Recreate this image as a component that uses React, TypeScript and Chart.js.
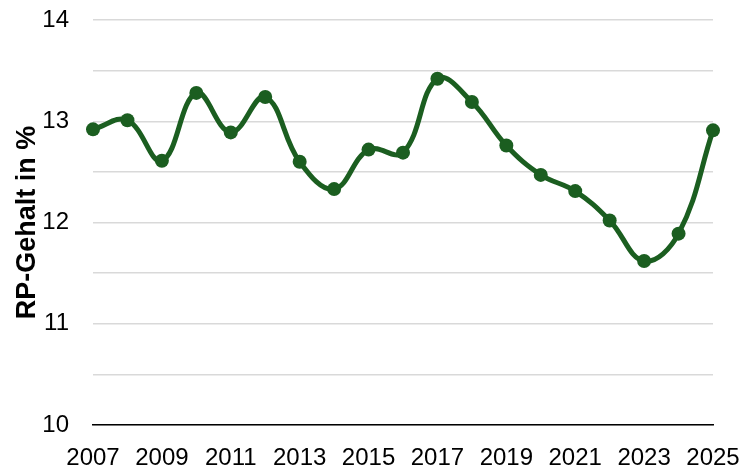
import React, { useEffect, useRef } from "react";
import { Chart, registerables } from "chart.js";

Chart.register(...registerables);

const years = ["2007","2008","2009","2010","2011","2012","2013","2014","2015","2016","2017","2018","2019","2020","2021","2022","2023","2024","2025"];
const rpContent = [12.92, 13.01, 12.61, 13.28, 12.89, 13.24, 12.60, 12.33, 12.72, 12.69, 13.42, 13.19, 12.76, 12.47, 12.31, 12.02, 11.62, 11.89, 12.91];
const yMin = 10;
const yMax = 14;
const yStep = 0.5;
const yTitle = "RP-Gehalt in %";

export default function App() {
  const ref = useRef<HTMLCanvasElement | null>(null);
  useEffect(() => {
    if (!ref.current) return;
    const font = "'Liberation Sans', Arial, sans-serif";
    const chart = new Chart(ref.current, {
      type: "line",
      data: {
        labels: years,
        datasets: [
          {
            data: rpContent,
            borderColor: "#1b5e20",
            backgroundColor: "#1b5e20",
            borderWidth: 5,
            pointRadius: 7,
            pointHoverRadius: 7,
            pointBorderWidth: 0,
            tension: 0.4,
            fill: false,
          },
        ],
      },
      options: {
        responsive: false,
        animation: false,
        maintainAspectRatio: false,
        layout: { padding: { left: 0, right: 30, top: 20, bottom: 0 } },
        plugins: { legend: { display: false }, tooltip: { enabled: false } },
        scales: {
          x: {
            type: "category",
            offset: false,
            grid: { display: false, drawTicks: false },
            border: { display: true, color: "#000000", width: 1.5 },
            ticks: {
              autoSkip: false,
              maxRotation: 0,
              minRotation: 0,
              padding: 19,
              color: "#000000",
              font: { family: font, size: 24 },
              callback: (_v: any, i: number) => (i % 2 === 0 ? years[i] : ""),
            },
            afterFit: (s: any) => {
              s.height = 47;
              s.paddingLeft = 0;
              s.paddingRight = 0;
            },
          },
          y: {
            min: yMin,
            max: yMax,
            grid: { color: "#d9d9d9", lineWidth: 1.5, drawTicks: false },
            border: { display: false },
            ticks: {
              stepSize: yStep,
              padding: 24,
              color: "#000000",
              font: { family: font, size: 24 },
              callback: (v: any) => (Number.isInteger(Number(v)) ? String(v) : ""),
            },
            title: {
              display: true,
              text: yTitle,
              color: "#000000",
              font: { family: font, size: 27, weight: "bold" },
              padding: { top: 11, bottom: 0 },
            },
            afterFit: (s: any) => {
              s.width = 93;
              s.paddingTop = 0;
              s.paddingBottom = 0;
            },
          },
        },
      },
    });
    return () => chart.destroy();
  }, []);
  return (
    <div style={{ position: "fixed", left: 0, top: 0, width: 743, height: 472, background: "#fff" }}>
      <canvas ref={ref} width={743} height={472} style={{ width: 743, height: 472 }} />
    </div>
  );
}
